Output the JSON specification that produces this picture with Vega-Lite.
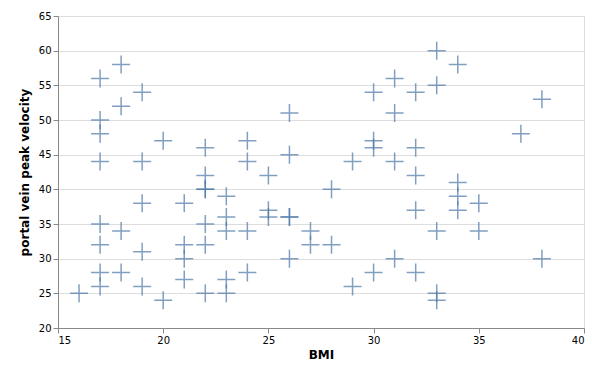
{
  "$schema": "https://vega.github.io/schema/vega-lite/v6.json",
  "width": 526,
  "height": 312,
  "padding": {"left": 18, "top": 11, "right": 5, "bottom": 5},
  "config": {"font": "DejaVu Sans", "axis": {"titleFontSize": 12}},
  "data": {
    "values": [
      {"BMI": 16, "v": 25},
      {"BMI": 17, "v": 56}, {"BMI": 17, "v": 50}, {"BMI": 17, "v": 48}, {"BMI": 17, "v": 44}, {"BMI": 17, "v": 35}, {"BMI": 17, "v": 32}, {"BMI": 17, "v": 28}, {"BMI": 17, "v": 26},
      {"BMI": 18, "v": 58}, {"BMI": 18, "v": 52}, {"BMI": 18, "v": 34}, {"BMI": 18, "v": 28},
      {"BMI": 19, "v": 54}, {"BMI": 19, "v": 44}, {"BMI": 19, "v": 38}, {"BMI": 19, "v": 31}, {"BMI": 19, "v": 26},
      {"BMI": 20, "v": 47}, {"BMI": 20, "v": 24},
      {"BMI": 21, "v": 38}, {"BMI": 21, "v": 32}, {"BMI": 21, "v": 30}, {"BMI": 21, "v": 27},
      {"BMI": 22, "v": 46}, {"BMI": 22, "v": 42}, {"BMI": 22, "v": 40}, {"BMI": 22, "v": 40}, {"BMI": 22, "v": 35}, {"BMI": 22, "v": 32}, {"BMI": 22, "v": 25},
      {"BMI": 23, "v": 39}, {"BMI": 23, "v": 36}, {"BMI": 23, "v": 34}, {"BMI": 23, "v": 27}, {"BMI": 23, "v": 25},
      {"BMI": 24, "v": 47}, {"BMI": 24, "v": 44}, {"BMI": 24, "v": 34}, {"BMI": 24, "v": 28},
      {"BMI": 25, "v": 42}, {"BMI": 25, "v": 37}, {"BMI": 25, "v": 36},
      {"BMI": 26, "v": 51}, {"BMI": 26, "v": 45}, {"BMI": 26, "v": 36}, {"BMI": 26, "v": 36}, {"BMI": 26, "v": 30},
      {"BMI": 27, "v": 34}, {"BMI": 27, "v": 32},
      {"BMI": 28, "v": 40}, {"BMI": 28, "v": 32},
      {"BMI": 29, "v": 44}, {"BMI": 29, "v": 26},
      {"BMI": 30, "v": 54}, {"BMI": 30, "v": 47}, {"BMI": 30, "v": 46}, {"BMI": 30, "v": 28},
      {"BMI": 31, "v": 56}, {"BMI": 31, "v": 51}, {"BMI": 31, "v": 44}, {"BMI": 31, "v": 30},
      {"BMI": 32, "v": 54}, {"BMI": 32, "v": 46}, {"BMI": 32, "v": 42}, {"BMI": 32, "v": 37}, {"BMI": 32, "v": 28},
      {"BMI": 33, "v": 60}, {"BMI": 33, "v": 55}, {"BMI": 33, "v": 34}, {"BMI": 33, "v": 25}, {"BMI": 33, "v": 24},
      {"BMI": 34, "v": 58}, {"BMI": 34, "v": 41}, {"BMI": 34, "v": 39}, {"BMI": 34, "v": 37},
      {"BMI": 35, "v": 38}, {"BMI": 35, "v": 34},
      {"BMI": 37, "v": 48},
      {"BMI": 38, "v": 53}, {"BMI": 38, "v": 30}
    ]
  },
  "mark": {
    "type": "point",
    "shape": "M-1,0H1M0,-1V1",
    "size": 324,
    "strokeWidth": 1.5,
    "filled": false,
    "color": "#4c78a8",
    "opacity": 0.7
  },
  "encoding": {
    "x": {
      "field": "BMI",
      "type": "quantitative",
      "title": "BMI",
      "scale": {"domain": [15, 40], "zero": false},
      "axis": {"grid": false, "tickCount": 5}
    },
    "y": {
      "field": "v",
      "type": "quantitative",
      "title": "portal vein peak velocity",
      "scale": {"domain": [20, 65], "zero": false},
      "axis": {"tickCount": 9, "titlePadding": 7}
    }
  }
}
